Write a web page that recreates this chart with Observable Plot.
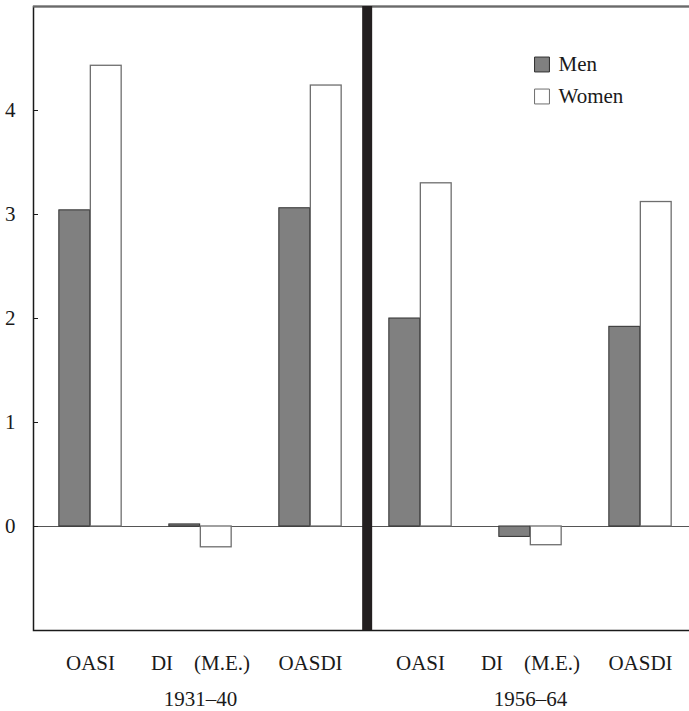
<!DOCTYPE html>
<html>
<head>
<meta charset="utf-8">
<script src="https://cdn.jsdelivr.net/npm/d3@7"></script>
<script src="https://cdn.jsdelivr.net/npm/@observablehq/plot@0.6"></script>
<style>
  html, body { margin: 0; padding: 0; background: white; overflow: hidden; }
  #chart svg { max-width: none !important; display: block; overflow: hidden; }
</style>
</head>
<body>
<div id="chart"></div>
<script>
// ---- data ----
const periods = ["1931–40", "1956–64"];
const programs = ["OASI", "DI\u2003(M.E.)", "OASDI"];
const menValues = [3.04, 0.02, 3.06, 2.00, -0.10, 1.92];
const womenValues = [4.43, -0.20, 4.24, 3.30, -0.18, 3.12];
const yTicks = [0, 1, 2, 3, 4];
const legendLabels = ["Men", "Women"];

// ---- build table ----
const key = (p, g) => `${p}|${g}`;
const keys = periods.flatMap(p => programs.map(g => key(p, g)));
const men = keys.map((k, i) => ({key: k, value: menValues[i]}));
const women = keys.map((k, i) => ({key: k, value: womenValues[i]}));

// ---- layout ----
// the plot frame runs past the right edge of the 689px picture (as in the reference)
const width = 689, height = 711;
const marginLeft = 33, marginRight = -8, marginTop = 6, marginBottom = 81;
const innerWidth = width - marginLeft - marginRight;
const band = innerWidth / keys.length;
const barW = 31.5;
const menFill = "#808080", menStroke = "#2e2e2e";
const womenFill = "#ffffff", womenStroke = "#6e6e6e";
const legendStyles = [
  {fill: menFill, stroke: menStroke},
  {fill: womenFill, stroke: womenStroke}
];

const chart = Plot.plot({
  width, height, marginLeft, marginRight, marginTop, marginBottom,
  style: {fontFamily: "'Liberation Serif', 'Times New Roman', serif", fontSize: "21px", color: "#1a1a1a", background: "white"},
  x: {domain: keys, range: [marginLeft, width - marginRight], padding: 0, label: null},
  y: {domain: [-1, 5], label: null},
  marks: [
    Plot.ruleY([0], {stroke: "#555", strokeWidth: 1}),
    Plot.barY(men, {x: "key", y: "value", fill: menFill, stroke: menStroke, strokeWidth: 1,
      insetLeft: band / 2 - barW, insetRight: band / 2}),
    Plot.barY(women, {x: "key", y: "value", fill: womenFill, stroke: womenStroke, strokeWidth: 1.3,
      insetLeft: band / 2, insetRight: band / 2 - barW}),
    Plot.frame({stroke: "#1a1a1a", strokeWidth: 1.5}),
    Plot.ruleY([5], {stroke: "#6a6a6a", strokeWidth: 1.8}),
    Plot.ruleX([key(periods[1], programs[0])], {dx: -band / 2 + 2, stroke: "#231f20", strokeWidth: 10}),
    Plot.tickY(yTicks, {y: d => d, stroke: "#1a1a1a", strokeWidth: 1, insetRight: innerWidth - 5}),
    Plot.axisY({ticks: yTicks, tickSize: 0, tickPadding: 18, tickFormat: d => d}),
    Plot.axisX({tickSize: 0, tickPadding: 25, tickFormat: k => k.split("|")[1]}),
    Plot.text(periods, {x: p => key(p, programs[1]), text: d => d, frameAnchor: "bottom", lineAnchor: "middle", dy: 69}),
    ...legendLabels.flatMap((lab, i) => [
      Plot.dot([lab], {frameAnchor: "top-left", dx: 508.5, dy: 58 + 32 * i, symbol: "square", r: 8.4,
        fill: legendStyles[i].fill, stroke: legendStyles[i].stroke, strokeWidth: 1}),
      Plot.text([lab], {frameAnchor: "top-left", dx: 525, dy: 58 + 32 * i, lineAnchor: "middle", text: d => d, textAnchor: "start"})
    ])
  ]
});
document.getElementById("chart").appendChild(chart);
</script>
</body>
</html>
